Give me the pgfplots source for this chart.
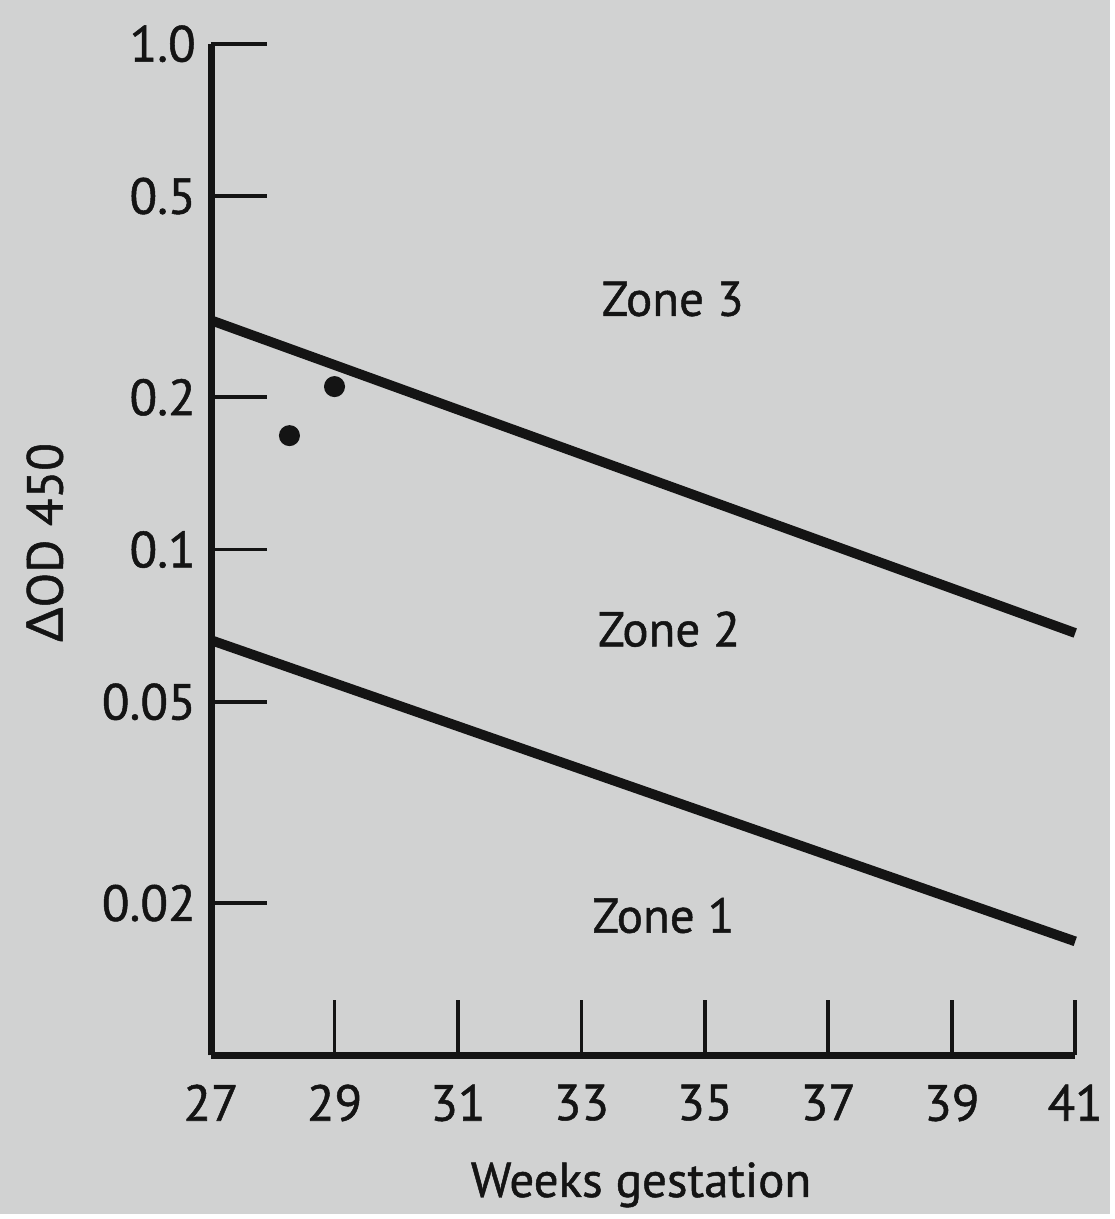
\documentclass[border=0pt]{standalone}
\usepackage{fontspec}
\setmainfont{PT Sans}[FakeBold=1]
\newfontfamily\greekfont{Lato}[FakeBold=1]
\usepackage{pgfplots}
\pgfplotsset{compat=1.18}
\definecolor{bg}{RGB}{209,210,210}
\definecolor{ink}{RGB}{20,20,20}
\begin{document}
\begin{tikzpicture}
\fill[bg] (-2.12,-1.59) rectangle (9.03,10.60);
\begin{axis}[
  at={(0,0)}, anchor=south west,
  scale only axis, width=8.68cm, height=10.16cm,
  ymode=log, xmin=27, xmax=41, ymin=0.01, ymax=1,
  axis x line=bottom, axis y line=left,
  axis line style={line width=2pt, -, ink},
  xtick={27,29,31,33,35,37,39,41},
  ytick={0.02,0.05,0.1,0.2,0.5,1},
  yticklabels={0.02,0.05,0.1,0.2,0.5,1.0},
  yminorticks=false, xminorticks=false,
  tick align=inside, major tick length=0.56cm,
  tick style={line width=1.1pt, ink},
  /pgf/number format/assume math mode=true,
  tick label style={font=\fontsize{14.5}{16}\selectfont, text=ink},
  xticklabel style={yshift=-0.17cm},
  yticklabel style={xshift=-0.03cm},
  xlabel={Weeks gestation},
  xlabel style={at={(axis description cs:0.4976,-0.128)}, anchor=center, font=\fontsize{14}{16}\selectfont, text=ink},
  ylabel={{\greekfont Δ}OD 450},
  ylabel style={at={(axis description cs:-0.1924,0.507)}, anchor=center, font=\fontsize{14.5}{16}\selectfont, text=ink},
  clip=false,
]
\addplot[line width=2.8pt, ink] coordinates {(27,0.284) (41,0.0684)};
\addplot[line width=2.8pt, ink] coordinates {(27,0.0662) (41,0.0168)};
\addplot[only marks, mark=*, mark size=2.8pt, ink] coordinates {(28.27,0.168) (29.0,0.21)};
\node[font=\fontsize{14}{16}\selectfont, text=ink] at (axis cs:34.48,0.313) {Zone 3};
\node[font=\fontsize{14}{16}\selectfont, text=ink] at (axis cs:34.42,0.0696) {Zone 2};
\node[font=\fontsize{14}{16}\selectfont, text=ink] at (axis cs:34.33,0.0189) {Zone 1};
\end{axis}
\end{tikzpicture}
\end{document}
